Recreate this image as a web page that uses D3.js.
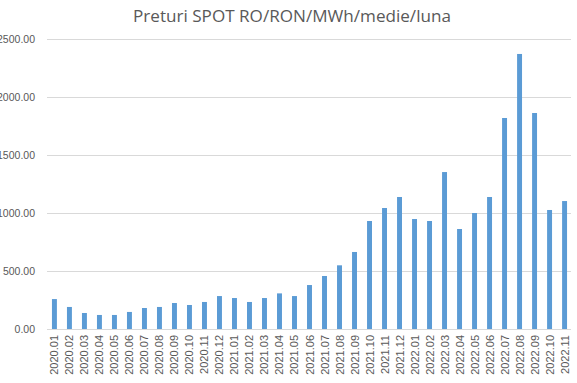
<!DOCTYPE html>
<html>
<head>
<meta charset="utf-8">
<script src="https://cdn.jsdelivr.net/npm/d3@7"></script>
<style>
html,body{margin:0;padding:0;background:#fff;}
svg{display:block;}
</style>
</head>
<body>
<script>
const title = "Preturi SPOT RO/RON/MWh/medie/luna";
const categories = ["2020.01","2020.02","2020.03","2020.04","2020.05","2020.06","2020.07","2020.08","2020.09","2020.10","2020.11","2020.12",
  "2021.01","2021.02","2021.03","2021.04","2021.05","2021.06","2021.07","2021.08","2021.09","2021.10","2021.11","2021.12",
  "2022.01","2022.02","2022.03","2022.04","2022.05","2022.06","2022.07","2022.08","2022.09","2022.10","2022.11"];
const values = [258,190,138,121,121,147,181,190,224,207,233,284,
  267,233,267,307,284,379,457,549,664,931,1043,1138,
  948,931,1353,862,1000,1138,1819,2371,1862,1026,1103];
const yTicks = [0,500,1000,1500,2000,2500];

const W = 577, H = 383;
const svg = d3.select("body").append("svg").attr("width", W).attr("height", H);

const x = d3.scaleBand().domain(categories).range([47, 572]).paddingInner(0.67).paddingOuter(0.33);
const y = d3.scaleLinear().domain([0, 2500]).range([329, 39]);

// gridlines
svg.append("g").selectAll("line").data(yTicks).join("line")
  .attr("x1", 47).attr("x2", 571)
  .attr("y1", d => Math.round(y(d)) + 0.5).attr("y2", d => Math.round(y(d)) + 0.5)
  .attr("stroke", "#d9d9d9").attr("stroke-width", 1);

// y labels
svg.append("g").selectAll("text").data(yTicks).join("text")
  .attr("x", 35).attr("y", d => y(d) + 4)
  .attr("text-anchor", "end")
  .attr("font-family", "Liberation Sans, Arial, sans-serif")
  .attr("font-size", "10.5px").attr("fill", "#595959")
  .text(d => d3.format(".2f")(d));

// bars
svg.append("g").selectAll("rect").data(values).join("rect")
  .attr("x", (d, i) => x(categories[i]))
  .attr("width", x.bandwidth())
  .attr("y", d => y(d))
  .attr("height", d => y(0) - y(d))
  .attr("fill", "#5b9bd5");

// x labels
svg.append("g").selectAll("text").data(categories).join("text")
  .attr("transform", d => `translate(${x(d) + x.bandwidth() / 2 + 4},335) rotate(-90)`)
  .attr("text-anchor", "end")
  .attr("font-family", "Liberation Sans, Arial, sans-serif")
  .attr("font-size", "11px").attr("fill", "#595959")
  .text(d => d);

// title
const t = svg.append("text")
  .attr("x", 292).attr("y", 22)
  .attr("text-anchor", "middle")
  .attr("font-family", "Open Sans, Liberation Sans, sans-serif")
  .attr("font-size", "16px").attr("fill", "#595959")
  .text(title);
const tw = t.node().getComputedTextLength();
t.attr("font-size", (16 * 318 / tw).toFixed(2) + "px");
</script>
</body>
</html>
